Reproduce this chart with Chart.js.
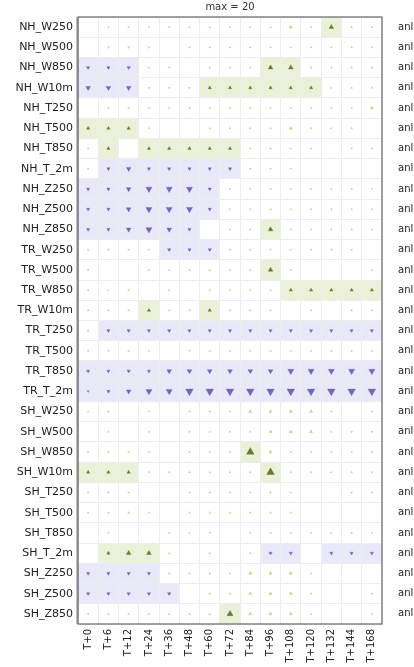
<!DOCTYPE html>
<html>
<head>
<meta charset="utf-8">
<script src="https://cdn.jsdelivr.net/npm/chart.js@4.4.1/dist/chart.umd.min.js"></script>
<style>
html, body { margin: 0; padding: 0; background: #fff; }
#wrap { width: 414px; height: 667px; position: relative; }
</style>
</head>
<body>
<div id="wrap"><canvas id="card"></canvas></div>
<script>
const steps = ['T+0', 'T+6', 'T+12', 'T+24', 'T+36', 'T+48', 'T+60', 'T+72', 'T+84', 'T+96', 'T+108', 'T+120', 'T+132', 'T+144', 'T+168'];
const rowLabels = ['NH_W250', 'NH_W500', 'NH_W850', 'NH_W10m', 'NH_T250', 'NH_T500', 'NH_T850', 'NH_T_2m', 'NH_Z250', 'NH_Z500', 'NH_Z850',
    'TR_W250', 'TR_W500', 'TR_W850', 'TR_W10m', 'TR_T250', 'TR_T500', 'TR_T850', 'TR_T_2m',
    'SH_W250', 'SH_W500', 'SH_W850', 'SH_W10m', 'SH_T250', 'SH_T500', 'SH_T850', 'SH_T_2m', 'SH_Z250', 'SH_Z500', 'SH_Z850'];
const rightLabels = rowLabels.map(() => 'anl');
const maxLabel = 'max = 20';

// sign = direction (up / down), size = marker size class 1..5
const scores = [
    [0, -1, -1, -1, -1, 1, 1, 1, 1, 1, 2, 1, 3, 1, 1],
    [0, -1, -1, -1, 0, 1, 1, 1, 1, 1, 1, 1, 1, 1, 1],
    [-2, -2, -2, -1, -1, 0, 1, 1, 1, 3, 3, 1, 1, 1, 1],
    [-3, -3, -3, -1, -1, -1, 2, 2, 2, 2, 2, 2, 1, 1, 1],
    [0, -1, -1, 1, 1, 1, 1, 1, 1, 1, 1, 1, 1, 1, 2],
    [2, 2, 2, 1, 0, 0, 1, 1, 1, 1, 2, 1, 1, 1, 0],
    [1, 2, 0, 2, 2, 2, 2, 2, 1, 1, 1, 1, 0, 1, 1],
    [1, -2, -3, -2, -2, -2, -2, -2, -1, -1, -1, 0, 0, 0, 0],
    [-2, -2, -3, -4, -4, -4, -2, -1, 1, 1, 1, 1, 1, 1, 1],
    [-2, -2, -3, -4, -4, -4, -2, -1, -1, 1, 1, 1, 1, 1, 1],
    [-2, -2, -3, -4, -3, -2, 0, -1, 1, 3, 1, 1, 1, 1, -1],
    [-1, -1, -1, -1, -2, -2, -2, -1, -1, -1, -1, -1, -1, -1, 0],
    [-1, 0, 0, 1, 1, 1, 1, 1, 1, 3, 1, 0, 0, 0, 1],
    [1, 1, 1, 0, 1, 0, 1, 1, 1, 1, 2, 2, 2, 2, 2],
    [1, 1, 1, 2, 1, 1, 2, 1, 1, 1, 0, 1, 0, 1, 1],
    [1, -2, -2, -2, -2, -2, -2, -2, -2, -2, -2, -2, -2, -2, -2],
    [-1, -1, 1, 1, 0, -1, 1, 1, 1, 1, 1, 1, 1, 1, 1],
    [-2, -2, -2, -2, -3, -3, -3, -3, -3, -3, -4, -4, -4, -4, -4],
    [-1, -2, -3, -4, -4, -5, -5, -5, -5, -5, -5, -5, -5, -5, -5],
    [1, -1, 0, 1, 0, 1, 1, 1, 2, 2, 2, 2, 1, 0, -1],
    [0, 1, 0, -1, 0, 1, 1, 1, 1, 2, 2, 2, 1, -1, -1],
    [-1, 1, 1, 1, 0, 1, 1, 1, 5, 2, 1, 1, 1, 1, -1],
    [2, 2, 2, -1, 1, 1, 1, 1, 1, 5, 1, 1, 1, 1, -1],
    [-1, -1, 1, 0, 0, 1, 1, 1, 1, 1, 1, 0, 0, -1, -1],
    [-1, -1, 1, 1, 0, 1, 1, 1, 1, 1, 1, 0, 0, 0, 0],
    [0, 1, 0, 0, 1, 1, 1, 0, 1, 1, 1, 1, 1, 1, -1],
    [0, 2, 3, 3, 1, 0, 1, 0, 1, -2, -2, 0, -2, -2, -2],
    [-2, -2, -2, -2, 1, 1, 1, 1, 2, 2, 2, 1, 0, 0, 0],
    [-2, -2, -2, -2, -2, 0, 1, 1, 2, 2, 2, 1, 0, 0, -1],
    [1, 1, 1, 1, 1, 1, 1, 4, 2, 2, 2, 1, 0, 0, -1]
];

// g = significant better (green), p = significant worse (purple), . = not significant
const signif = [
    '............g..',
    '...............',
    'ppp......gg....',
    'ppp...gggggg...',
    '...............',
    'ggg............',
    '.g.ggggg.......',
    '.ppppppp.......',
    'ppppppp........',
    'ppppppp........',
    'pppppp...g.....',
    '....ppp........',
    '.........g.....',
    '..........ggggg',
    '...g..g........',
    '.pppppppppppppp',
    '...............',
    'ppppppppppppppp',
    'ppppppppppppppp',
    '...............',
    '...............',
    '........g......',
    'ggg......g.....',
    '...............',
    '...............',
    '...............',
    '.ggg.....pp.ppp',
    'pppp...........',
    'ppppp..........',
    '.......g.......'
];

const cellFill = { g: '#ebf1d9', p: '#e8e8f8' };
const upSig = '#6a7a2c', upLight = '#c6d28c', downSig = '#7366b4', downLight = '#c4c0e3';
const radius = [0, 1.1, 1.9, 2.7, 3.5, 4.4];

const points = [];
rowLabels.forEach((r, i) => {
    scores[i].forEach((v, j) => {
        if (v !== 0) points.push({ x: steps[j], y: r, v: v, sig: signif[i][j] !== '.' });
    });
});

function markerColor(ctx) {
    const p = ctx.raw;
    if (!p) return upLight;
    if (p.v > 0) return p.sig ? upSig : upLight;
    return p.sig ? downSig : downLight;
}

// shaded cells under the grid, frame on top
const cellShading = {
    id: 'cellShading',
    beforeDraw(chart) {
        const { ctx, scales: { x, y } } = chart;
        const cw = (x.right - x.left) / steps.length;
        const ch = (y.bottom - y.top) / rowLabels.length;
        ctx.save();
        signif.forEach((row, i) => {
            row.split('').forEach((s, j) => {
                if (s === '.') return;
                ctx.fillStyle = cellFill[s];
                ctx.fillRect(x.getPixelForValue(j) - cw / 2, y.getPixelForValue(i) - ch / 2, cw, ch);
            });
        });
        ctx.restore();
    },
    afterDraw(chart) {
        const { ctx, chartArea: a } = chart;
        ctx.save();
        ctx.strokeStyle = '#666';
        ctx.lineWidth = 1.2;
        ctx.strokeRect(a.left, a.top, a.right - a.left, a.bottom - a.top);
        ctx.lineWidth = 2;
        ctx.strokeStyle = '#888';
        ctx.beginPath();
        ctx.moveTo(a.left - 0.5, a.top);
        ctx.lineTo(a.left - 0.5, a.bottom);
        ctx.stroke();
        ctx.restore();
    }
};

Chart.defaults.font.family = "'DejaVu Sans', sans-serif";

new Chart(document.getElementById('card'), {
    type: 'scatter',
    data: {
        datasets: [{
            data: points,
            pointStyle: 'triangle',
            pointRadius: ctx => ctx.raw ? radius[Math.abs(ctx.raw.v)] : 0,
            pointHoverRadius: ctx => ctx.raw ? radius[Math.abs(ctx.raw.v)] : 0,
            pointRotation: ctx => ctx.raw && ctx.raw.v < 0 ? 180 : 0,
            pointBackgroundColor: markerColor,
            pointBorderColor: markerColor,
            pointBorderWidth: 0.4
        }]
    },
    options: {
        responsive: true,
        maintainAspectRatio: false,
        animation: false,
        layout: { padding: 0 },
        plugins: {
            legend: { display: false },
            tooltip: { enabled: false },
            title: {
                display: true,
                text: maxLabel,
                fullSize: false,
                color: '#333',
                font: { size: 10, weight: 'normal' },
                padding: { top: 1, bottom: 4 }
            }
        },
        scales: {
            x: {
                type: 'category',
                labels: steps,
                offset: true,
                grid: { offset: true, color: '#ededed', drawTicks: false },
                border: { display: false },
                ticks: { autoSkip: false, minRotation: 90, maxRotation: 90, padding: 5, color: '#222', font: { size: 10 } },
                afterFit: s => { s.height = 43; s.paddingLeft = 0; s.paddingRight = 0; }
            },
            y: {
                type: 'category',
                labels: rowLabels,
                offset: true,
                grid: { offset: true, color: '#ededed', drawTicks: false },
                border: { display: false },
                ticks: { autoSkip: false, padding: 5, color: '#222', font: { size: 11 } },
                afterFit: s => { s.width = 78; s.paddingTop = 0; s.paddingBottom = 0; }
            },
            y2: {
                type: 'category',
                position: 'right',
                labels: rightLabels,
                offset: true,
                grid: { display: false, drawTicks: false },
                border: { display: false },
                ticks: { autoSkip: false, padding: 16, color: '#222', font: { size: 10 } },
                afterFit: s => { s.width = 32; s.paddingTop = 0; s.paddingBottom = 0; }
            }
        }
    },
    plugins: [cellShading]
});
</script>
</body>
</html>
